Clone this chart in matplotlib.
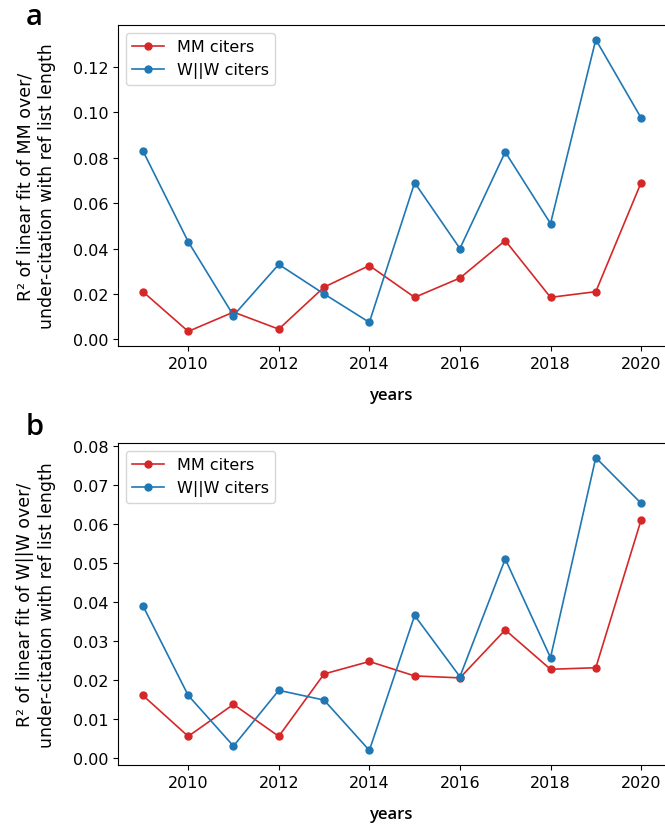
import matplotlib
matplotlib.use("Agg")
import matplotlib.pyplot as plt

years = list(range(2009, 2021))

# panel a: R2 of MM over/under-citation vs ref list length
mm_a = [0.021, 0.0035, 0.012, 0.0045, 0.023, 0.0325, 0.0185, 0.027, 0.0435, 0.0185, 0.021, 0.069]
ww_a = [0.083, 0.043, 0.0105, 0.033, 0.020, 0.0075, 0.069, 0.040, 0.0825, 0.051, 0.132, 0.0975]

# panel b: R2 of W||W over/under-citation vs ref list length
mm_b = [0.016, 0.0055, 0.0137, 0.0055, 0.0215, 0.0247, 0.021, 0.0205, 0.0328, 0.0227, 0.0231, 0.061]
ww_b = [0.039, 0.016, 0.003, 0.0173, 0.0148, 0.0019, 0.0365, 0.0208, 0.051, 0.0257, 0.077, 0.0653]

ylabels = ["R\u00b2 of linear fit of MM over/\nunder-citation with ref list length",
           "R\u00b2 of linear fit of W||W over/\nunder-citation with ref list length"]
panel_letters = ["a", "b"]

W, H = 665, 829
fig = plt.figure(figsize=(W / 100, H / 100), dpi=100)

# axes boxes in pixels: left, top, bottom, letter baseline
boxes = [(118, 26, 347, 25), (118, 444, 766, 435)]
series = [(mm_a, ww_a), (mm_b, ww_b)]

for i, ((l, t, b, lb), (mm, ww)) in enumerate(zip(boxes, series)):
    ax = fig.add_axes([l / W, 1 - b / H, (W - l + 1) / W, (b - t) / H])
    ax.plot(years, mm, marker='o', color='tab:red', markersize=5, linewidth=1.2, label='MM citers')
    ax.plot(years, ww, marker='o', color='tab:blue', markersize=5, linewidth=1.2, label='W||W citers')
    ax.set_xticks([2010, 2012, 2014, 2016, 2018, 2020])
    ax.tick_params(labelsize=11.5)
    if i == 0:
        ax.set_yticks([0.0, 0.02, 0.04, 0.06, 0.08, 0.10, 0.12])
    else:
        ax.set_yticks([0.0, 0.01, 0.02, 0.03, 0.04, 0.05, 0.06, 0.07, 0.08])
    ax.yaxis.set_major_formatter(matplotlib.ticker.FormatStrFormatter('%.2f'))
    ax.set_ylabel(ylabels[i], fontsize=12.5, labelpad=12, linespacing=1.25)
    ax.set_xlabel("years", fontsize=12, family="Open Sans", fontweight="semibold", labelpad=12)
    ax.legend(loc='upper left', fontsize=11.5)
    fig.text(26 / W, 1 - lb / H, panel_letters[i], fontsize=21, family="Open Sans",
             fontweight="semibold", va='baseline', ha='left')

plt.savefig("out.png", dpi=100)
